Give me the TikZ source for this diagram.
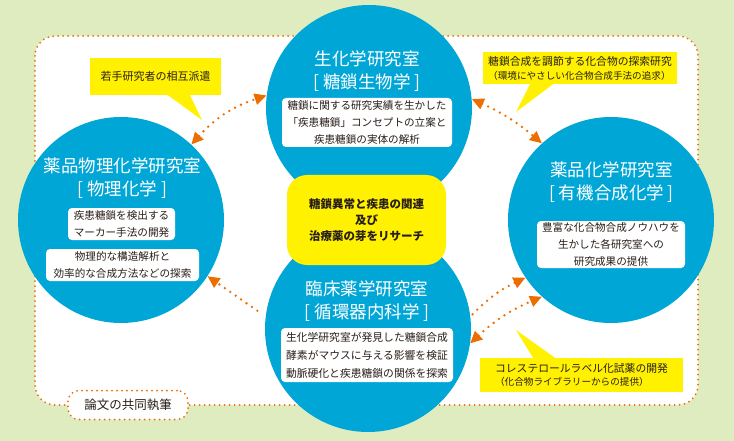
\documentclass[tikz,border=0pt]{standalone}
\usepackage{fontspec}
\setmainfont{Noto Sans CJK JP}
\usetikzlibrary{arrows.meta}
\definecolor{bggreen}{RGB}{222,236,191}
\definecolor{cblue}{RGB}{0,167,214}
\definecolor{cyel}{RGB}{255,241,0}
\definecolor{corange}{RGB}{236,110,0}
\definecolor{cdark}{RGB}{40,30,25}
\tikzset{
  circ/.style={circle, fill=cblue, minimum size=206pt, inner sep=0pt},
  ttl/.style={text=white, font=\fontsize{17.5}{23}\selectfont, align=center, inner sep=0pt},
  wbox/.style={fill=white, rounded corners=4pt, text=cdark, font=\fontsize{10.6}{16.6}\selectfont, align=center, inner sep=0pt},
  callout/.style={fill=cyel, text=cdark, inner sep=0pt},
  bdot/.style={draw=corange, line width=2pt, dash pattern=on 0pt off 5pt, line cap=round},
  adot/.style={draw=corange, line width=2.6pt, dash pattern=on 0pt off 6.6pt, line cap=round},
  darrow/.style={adot, {Triangle[length=12pt,width=11pt,fill=corange]}-{Triangle[length=12pt,width=11pt,fill=corange]}},
  sarrow/.style={adot, -{Triangle[length=12pt,width=11pt,fill=corange]}}
}
\begin{document}
\begin{tikzpicture}[x=1pt,y=-1pt]
\useasboundingbox (0,0) rectangle (734,441);
\fill[bggreen] (0,0) rectangle (734,441);
% outer region
\fill[white, rounded corners=20pt] (35,36) rectangle (698,405);
\draw[bdot, rounded corners=20pt] (35,36) rectangle (698,405);

% callouts
\node[callout, minimum width=131pt, minimum height=37pt, font=\fontsize{11}{14}\selectfont] (k1) at (155.5,76.5) {若手研究者の相互派遣};
\coordinate (k1tip) at (202,120);
\fill[cyel] ([xshift=12.5pt]k1.south) -- (k1tip) -- ([xshift=34.5pt]k1.south) -- cycle;

\node[callout, minimum width=194pt, minimum height=32pt, align=left, font=\fontsize{10.8}{14}\selectfont] (k2) at (580,68) {糖鎖合成を調節する化合物の探索研究\\\fontsize{9.6}{14}\selectfont （環境にやさしい化合物合成手法の追求）};
\coordinate (k2tip) at (516,112);
\fill[cyel] ([xshift=-50pt]k2.south) -- (k2tip) -- ([xshift=-27pt]k2.south) -- cycle;

\node[callout, minimum width=203pt, minimum height=34pt, align=left, font=\fontsize{10.8}{13.5}\selectfont] (k3) at (581.5,375) {コレステロールラベル化試薬の開発\\\fontsize{9.6}{13.5}\selectfont （化合物ライブラリーからの提供）};
\coordinate (k3tip) at (516,330);
\fill[cyel] ([xshift=-48.5pt]k3.north) -- (k3tip) -- ([xshift=-26.5pt]k3.north) -- cycle;

% circles
\node[circ] (T) at (369,108) {};
\node[circ] (L) at (121,220) {};
\node[circ] (R) at (611,220) {};
\node[circ] (B) at (368,329) {};

% center box
\node[fill=cyel, rounded corners=20pt, minimum width=159pt, minimum height=90pt, align=center, text=cdark, inner sep=0pt,
      font=\bfseries\fontsize{11.5}{15.8}\selectfont] (C) at (366.5,220) {糖鎖異常と疾患の関連\\及び\\治療薬の芽をリサーチ};

% titles
\node[ttl] (Tt) at (367,71.5) {生化学研究室\\{[} 糖鎖生物学 {]}};
\node[ttl] (Lt) at (122.5,178) {薬品物理化学研究室\\{[} 物理化学 {]}};
\node[ttl] (Rt) at (611.5,182) {薬品化学研究室\\{[} 有機合成化学 {]}};
\node[ttl] (Bt) at (367,301) {臨床薬学研究室\\{[} 循環器内科学 {]}};

% white boxes
\node[wbox, minimum width=170pt, minimum height=49pt] (Tb) at (367,122.5) {糖鎖に関する研究実績を生かした\\「疾患糖鎖」コンセプトの立案と\\疾患糖鎖の実体の解析};
\node[wbox, minimum width=107pt, minimum height=32pt] (Lb1) at (121.5,224) {疾患糖鎖を検出する\\マーカー手法の開発};
\node[wbox, minimum width=153pt, minimum height=32pt] (Lb2) at (122.5,265) {物理的な構造解析と\\効率的な合成方法などの探索};
\node[wbox, minimum width=148pt, minimum height=47pt] (Rb) at (611,244.5) {豊富な化合物合成ノウハウを\\生かした各研究室への\\研究成果の提供};
\node[wbox, minimum width=172pt, minimum height=54pt, font=\fontsize{10.8}{18}\selectfont] (Bb) at (367,355) {生化学研究室が発見した糖鎖合成\\酵素がマウスに与える影響を検証\\動脈硬化と疾患糖鎖の関係を探索};

% arrows
\draw[darrow] (L.47) to[bend left=15] (T.173);
\draw[darrow] (T.5) to[bend left=8] (R.132);
\draw[sarrow, shorten <=10pt] (B.173) to (L.-33);
\draw[sarrow, shorten <=3pt] (B.7.6) to[bend left=10] (R.214.5);
\draw[darrow] (B.-8) to[bend left=10] (R.228.5);

% label
\node[fill=white, bdot, rounded corners=11pt, minimum width=120pt, minimum height=29pt, inner sep=0pt, text=cdark,
      font=\fontsize{12.5}{15}\selectfont] (P) at (128,405) {論文の共同執筆};
\end{tikzpicture}
\end{document}
